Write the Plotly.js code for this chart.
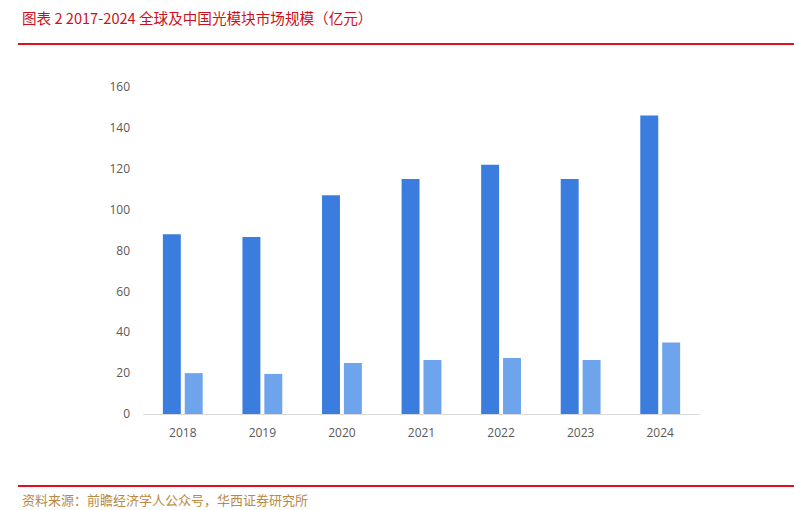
<!DOCTYPE html>
<html><head><meta charset="utf-8">
<script src="https://cdn.plot.ly/plotly-3.0.1.min.js"></script>
<style>html,body{margin:0;padding:0;background:#fff}#c{width:794px;height:510px}</style>
</head><body><div id="c"></div>
<script>
const years = ['2018','2019','2020','2021','2022','2023','2024'];
const globalValues = [88, 86.6, 107, 115, 122, 115, 146];
const chinaValues = [20, 19.6, 25, 26.4, 27.4, 26.4, 35];
const yTicks = [0,20,40,60,80,100,120,140,160];
const titleText = '图表 2 2017-2024 全球及中国光模块市场规模（亿元）';
const sourceText = '资料来源：前瞻经济学人公众号，华西证券研究所';

const traces = [
  {type:'bar', x:years, y:globalValues, name:'全球', marker:{color:'#3b7ddf'}, hoverinfo:'none'},
  {type:'bar', x:years, y:chinaValues, name:'中国', marker:{color:'#6ea4ec'}, hoverinfo:'none'}
];
const layout = {
  width:794, height:510,
  margin:{l:143, r:94, t:87, b:96},
  paper_bgcolor:'#fff', plot_bgcolor:'#fff',
  showlegend:false,
  barmode:'group', bargap:0.45, bargroupgap:0.18,
  xaxis:{type:'category', showgrid:false, showline:true, linecolor:'#d9d9d9', linewidth:1,
    ticks:'', tickfont:{family:'Open Sans, Noto Sans, sans-serif', size:12, color:'#595959'}, ticklabelstandoff:8},
  yaxis:{range:[0,160], tickvals:yTicks, ticktext:yTicks.map(String), showgrid:false, zeroline:false,
    showline:false, ticks:'', tickfont:{family:'Open Sans, Noto Sans, sans-serif', size:12, color:'#595959'}, ticklabelstandoff:12},
  shapes:[
    {type:'line', xref:'paper', yref:'paper', x0:-125/557, x1:(794-143)/557, y0:(510-96-44)/327, y1:(510-96-44)/327,
      line:{color:'#e01020', width:2}},
    {type:'line', xref:'paper', yref:'paper', x0:-125/557, x1:(794-143)/557, y0:(510-96-486)/327, y1:(510-96-486)/327,
      line:{color:'#e01020', width:2}}
  ],
  annotations:[
    {text:titleText, xref:'paper', yref:'paper', x:-123/557, y:(414-17)/327, xanchor:'left', yanchor:'middle',
      showarrow:false, font:{family:'Noto Sans CJK SC', size:14.6, color:'#cc1020'}},
    {text:sourceText, xref:'paper', yref:'paper', x:-123/557, y:(414-499)/327, xanchor:'left', yanchor:'middle',
      showarrow:false, font:{family:'Noto Sans CJK SC', size:13, color:'#b98a45'}}
  ]
};
Plotly.newPlot('c', traces, layout, {displayModeBar:false, staticPlot:true});
</script></body></html>
